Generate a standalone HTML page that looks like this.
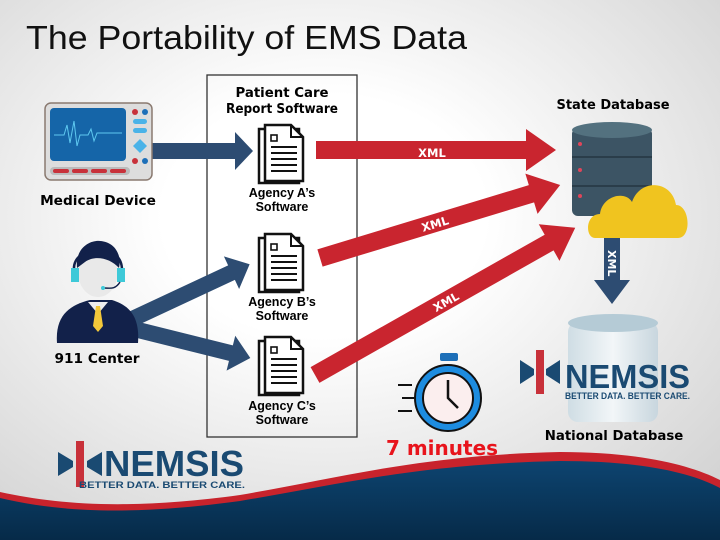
<!DOCTYPE html><html><head><style>body{margin:0}svg{display:block}text{font-family:"Liberation Sans",sans-serif}.b{font-family:"DejaVu Sans","Liberation Sans",sans-serif;font-weight:700}</style></head><body>
<svg width="720" height="540" viewBox="0 0 720 540" xmlns="http://www.w3.org/2000/svg">
<defs>
<radialGradient id="bg" cx="0.45" cy="0.4" r="0.75"><stop offset="0.3" stop-color="#fff"/><stop offset="1" stop-color="#d2d2d2"/></radialGradient>
<linearGradient id="blu" x1="0" y1="0" x2="0" y2="1"><stop offset="0" stop-color="#0d4470"/><stop offset="1" stop-color="#062a48"/></linearGradient>
<linearGradient id="db" x1="0" y1="0" x2="1" y2="0"><stop offset="0" stop-color="#cfdde4"/><stop offset="0.5" stop-color="#f2f6f8"/><stop offset="1" stop-color="#c8d6de"/></linearGradient>
<g id="doc"><rect x="0" y="4" width="40" height="54" fill="#fff" stroke="#111" stroke-width="2.5"/><path d="M6 0h26l12 12v44H6z" fill="#fff" stroke="#111" stroke-width="2.5"/><path d="M32 0v12h12" fill="none" stroke="#111" stroke-width="2"/><rect x="12" y="10" width="6" height="6" fill="none" stroke="#111" stroke-width="1.6"/><g stroke="#111" stroke-width="2"><line x1="12" y1="22" x2="38" y2="22"/><line x1="12" y1="28" x2="38" y2="28"/><line x1="12" y1="34" x2="38" y2="34"/><line x1="12" y1="40" x2="38" y2="40"/><line x1="12" y1="46" x2="38" y2="46"/></g></g>
</defs>
<rect width="720" height="540" fill="url(#bg)"/>
<path d="M0 492 C60 505 130 510 240 495 C340 478 420 455 560 452 C640 452 690 465 720 480 L720 540 L0 540Z" fill="#c8232c"/>
<path d="M0 498 C60 512 130 516 240 501 C340 484 420 464 560 461 C640 461 690 472 720 488 L720 540 L0 540Z" fill="url(#blu)"/>
<text x="26" y="49" font-size="33" fill="#111" textLength="441" lengthAdjust="spacingAndGlyphs">The Portability of EMS Data</text>
<rect x="207" y="75" width="150" height="362" fill="none" stroke="#333" stroke-width="1.3"/>
<text x="282" y="97" font-size="13.3" class="b" text-anchor="middle">Patient Care</text>
<text x="282" y="113" font-size="13.3" class="b" text-anchor="middle" textLength="112" lengthAdjust="spacingAndGlyphs">Report Software</text>
<g fill="#2d4c72">
<path d="M150 143h85v-11l18 19l-18 19v-11h-85z"/>
<g transform="translate(130,320) rotate(-25)"><path d="M0 -8H112V-18L132 0L112 18V8H0Z"/></g>
<g transform="translate(130,328) rotate(14)"><path d="M0 -8H104V-18L124 0L104 18V8H0Z"/></g>
<path d="M604 235h16v45h10l-18 24l-18-24h10z"/>
</g>
<text transform="translate(608,250) rotate(90)" font-size="11" class="b" fill="#fff">XML</text>
<g fill="#c9252f">
<path d="M316 141h210v-12l30 21l-30 21v-12h-210z"/>
<g transform="translate(320,258) rotate(-16.9)"><path d="M0 -9H221V-21L251 0L221 21V9H0Z"/><text x="120" y="5" font-size="11.5" class="b" fill="#fff" text-anchor="middle">XML</text></g>
<g transform="translate(315,375) rotate(-29.5)"><path d="M0 -9H269V-21L299 0L269 21V9H0Z"/><text x="150" y="5" font-size="11.5" class="b" fill="#fff" text-anchor="middle">XML</text></g>
</g>
<text x="432" y="157" font-size="11.5" class="b" fill="#fff" text-anchor="middle">XML</text>
<use href="#doc" x="259" y="125"/><use href="#doc" x="259" y="234"/><use href="#doc" x="259" y="337"/>
<g font-size="12.5" class="b" text-anchor="middle"><text x="282" y="197">Agency A’s</text><text x="282" y="211">Software</text><text x="282" y="306">Agency B’s</text><text x="282" y="320">Software</text><text x="282" y="410">Agency C’s</text><text x="282" y="424">Software</text></g>
<rect x="45" y="103" width="107" height="77" rx="6" fill="#ddd" stroke="#8a7a70" stroke-width="1.5"/>
<rect x="50" y="108" width="76" height="53" rx="4" fill="#1565a8"/>
<path d="M54 135h10l3-10l3 18l4-22l3 25l3-11h8l3-6l3 12l3-8h25" fill="none" stroke="#5ec8f0" stroke-width="1"/>
<rect x="50" y="167" width="80" height="8" rx="4" fill="#bbb"/><g fill="#c8313a"><rect x="53" y="169" width="16" height="4" rx="2"/><rect x="72" y="169" width="16" height="4" rx="2"/><rect x="91" y="169" width="16" height="4" rx="2"/><rect x="110" y="169" width="16" height="4" rx="2"/></g>
<circle cx="135" cy="112" r="3" fill="#c8313a"/><circle cx="145" cy="112" r="3" fill="#1d6fb8"/><circle cx="135" cy="161" r="3" fill="#c8313a"/><circle cx="145" cy="161" r="3" fill="#1d6fb8"/>
<rect x="133" y="119" width="14" height="5" rx="2.5" fill="#4ab3e8"/><rect x="133" y="128" width="14" height="5" rx="2.5" fill="#4ab3e8"/>
<path d="M140 139l7 7l-7 7l-7-7z" fill="#4ab3e8"/>
<text x="98" y="205" font-size="13.7" class="b" text-anchor="middle">Medical Device</text>
<path d="M57 343 C55 315 70 305 90 300 L112 300 C128 305 140 315 138 343Z" fill="#12214a"/>
<path d="M88 302l10 12l10-12z" fill="#eee"/><path d="M96 306h4l3 20l-5 6l-5-6z" fill="#f3c83a"/>
<ellipse cx="98" cy="272" rx="20" ry="25" fill="#e9e9e9"/>
<path d="M77 268 C75 248 90 240 100 241 C115 242 122 255 119 268 C110 258 95 255 85 262Z" fill="#12214a"/>
<path d="M74 270 C72 245 122 240 122 270" fill="none" stroke="#12214a" stroke-width="2.5"/>
<rect x="71" y="268" width="8" height="14" fill="#3ec9d8"/><rect x="117" y="268" width="8" height="14" fill="#3ec9d8"/>
<path d="M120 282 C115 290 110 288 104 288" fill="none" stroke="#12214a" stroke-width="1.5"/><circle cx="103" cy="288" r="2" fill="#3ec9d8"/>
<text x="97" y="363" font-size="13.7" class="b" text-anchor="middle">911 Center</text>
<text x="613" y="109" font-size="13" class="b" text-anchor="middle">State Database</text>
<rect x="572" y="128" width="80" height="88" rx="6" fill="#3c5464"/>
<ellipse cx="612" cy="130" rx="40" ry="8" fill="#53717f"/>
<line x1="572" y1="157" x2="652" y2="157" stroke="#2a3d4a" stroke-width="2"/><line x1="572" y1="186" x2="652" y2="186" stroke="#2a3d4a" stroke-width="2"/>
<circle cx="580" cy="144" r="2" fill="#e0455a"/><circle cx="580" cy="170" r="2" fill="#e0455a"/><circle cx="580" cy="196" r="2" fill="#e0455a"/>
<path d="M595 238 C585 238 585 214 600 214 C602 196 625 190 632 202 C640 178 672 180 676 205 C690 205 692 238 678 238Z" fill="#f0c41f"/>
<rect x="568" y="322" width="90" height="100" rx="10" fill="url(#db)"/>
<ellipse cx="613" cy="323" rx="45" ry="9" fill="#b5cbd6"/>
<g transform="translate(540,372)"><rect x="-4" y="-22" width="8" height="44" fill="#c8313a"/><path d="M-20 -12l14 9v6l-14 9zM20 -12l-14 9v6l14 9z" fill="#1a4a72"/></g>
<text x="565" y="388" font-size="33" font-weight="bold" fill="#1a4a72" textLength="125" lengthAdjust="spacingAndGlyphs">NEMSIS</text>
<text x="565" y="399" font-size="9" font-weight="bold" fill="#1a4a72" textLength="125" lengthAdjust="spacingAndGlyphs">BETTER DATA. BETTER CARE.</text>
<text x="614" y="440" font-size="13.3" class="b" text-anchor="middle">National Database</text>
<rect x="440" y="353" width="18" height="8" rx="2" fill="#1d6fb8"/>
<circle cx="448" cy="398" r="33" fill="#1d8ce0" stroke="#111" stroke-width="2"/>
<circle cx="448" cy="398" r="25" fill="#fbeeee" stroke="#111" stroke-width="2"/>
<path d="M448 380v18l10 10" fill="none" stroke="#111" stroke-width="2.5"/>
<g stroke="#111" stroke-width="2"><line x1="398" y1="385" x2="412" y2="385"/><line x1="402" y1="398" x2="414" y2="398"/><line x1="398" y1="411" x2="412" y2="411"/></g>
<text x="442" y="455" font-size="20" class="b" fill="#e8141c" text-anchor="middle">7 minutes</text>
<g transform="translate(80,464)"><rect x="-4" y="-23" width="8" height="46" fill="#c8313a"/><path d="M-22 -12l15 9v6l-15 9zM22 -12l-15 9v6l15 9z" fill="#1a4a72"/></g>
<text x="104" y="476" font-size="36" font-weight="bold" fill="#1a4a72" textLength="140" lengthAdjust="spacingAndGlyphs">NEMSIS</text>
<text x="79" y="488" font-size="9" font-weight="bold" fill="#1a4a72" textLength="166" lengthAdjust="spacingAndGlyphs">BETTER DATA. BETTER CARE.</text>
</svg></body></html>
